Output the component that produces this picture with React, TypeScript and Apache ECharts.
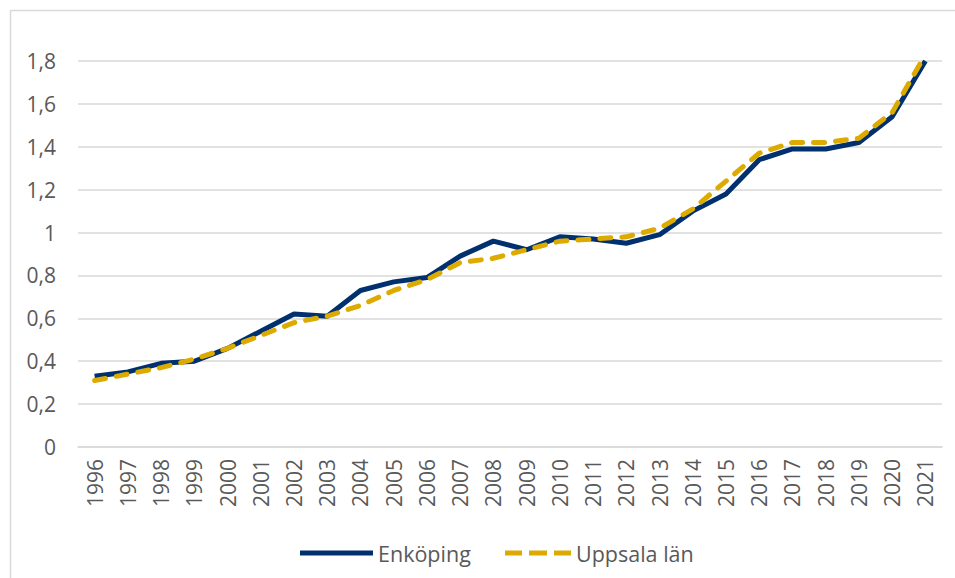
import React, { useEffect, useRef } from "react";
import * as echarts from "echarts";

const years = ["1996","1997","1998","1999","2000","2001","2002","2003","2004","2005","2006","2007","2008","2009","2010","2011","2012","2013","2014","2015","2016","2017","2018","2019","2020","2021"];
const enkoping = [0.33,0.35,0.39,0.40,0.46,0.54,0.62,0.61,0.73,0.77,0.79,0.89,0.96,0.92,0.98,0.97,0.95,0.99,1.10,1.18,1.34,1.39,1.39,1.42,1.54,1.80];
const uppsala = [0.31,0.34,0.37,0.41,0.46,0.52,0.58,0.61,0.66,0.73,0.78,0.86,0.88,0.92,0.96,0.97,0.98,1.02,1.11,1.24,1.37,1.42,1.42,1.44,1.56,1.83];
const seriesNames = ["Enköping", "Uppsala län"];

const FONT = "'Open Sans', 'Noto Sans', sans-serif";
const TEXT = "#595959";
const NAVY = "#00306E";
const GOLD = "#DDAA00";

export default function App() {
  const ref = useRef<HTMLDivElement>(null);
  useEffect(() => {
    if (!ref.current) return;
    const chart = echarts.init(ref.current, undefined, { renderer: "svg" });
    const legendText = { color: TEXT, fontSize: 21.5, fontFamily: FONT, lineHeight: 24 };
    chart.setOption({
      animation: false,
      backgroundColor: "#ffffff",
      textStyle: { fontFamily: FONT },
      graphic: [
        {
          type: "rect",
          shape: { x: 10.5, y: 10.5, width: 960, height: 600 },
          style: { fill: "none", stroke: "#d9d9d9", lineWidth: 1.5 },
          silent: true,
          z: -1,
        },
      ],
      grid: { left: 78, right: 13, top: 61, bottom: 131, containLabel: false },
      legend: [
        {
          left: 295,
          top: 536,
          itemWidth: 73,
          itemHeight: 5,
          itemGap: 0,
          textStyle: legendText,
          data: [{ name: seriesNames[0], icon: "path://M0,0H73V5H0Z" }],
        },
        {
          left: 500,
          top: 536,
          itemWidth: 66,
          itemHeight: 5,
          itemGap: 0,
          textStyle: legendText,
          data: [{ name: seriesNames[1], icon: "path://M0,0H17V5H0Z M24,0H42V5H24Z M49,0H66V5H49Z" }],
        },
      ],
      xAxis: {
        type: "category",
        data: years,
        boundaryGap: true,
        axisLine: { show: true, lineStyle: { color: "#d9d9d9", width: 1.5 } },
        axisTick: { show: false },
        axisLabel: { rotate: 90, color: TEXT, fontSize: 21, fontFamily: FONT, margin: 12, interval: 0 },
      },
      yAxis: {
        type: "value",
        min: 0,
        max: 1.8,
        interval: 0.2,
        axisLine: { show: false },
        axisTick: { show: false },
        splitLine: { lineStyle: { color: "#d9d9d9", width: 1.5 } },
        axisLabel: {
          color: TEXT,
          fontSize: 21,
          fontFamily: FONT,
          margin: 22,
          formatter: (v: number) => String(Math.round(v * 10) / 10).replace(".", ","),
        },
      },
      series: [
        {
          name: seriesNames[0],
          type: "line",
          data: enkoping,
          symbol: "none",
          lineStyle: { color: NAVY, width: 5 },
          itemStyle: { color: NAVY },
          z: 2,
        },
        {
          name: seriesNames[1],
          type: "line",
          data: uppsala,
          symbol: "none",
          lineStyle: { color: GOLD, width: 5, type: [11, 11], cap: "round" },
          itemStyle: { color: GOLD },
          z: 3,
        },
      ],
    });
    return () => chart.dispose();
  }, []);
  return (
    <div style={{ position: "fixed", left: 0, top: 0, width: 955, height: 578, background: "#fff" }}>
      <div ref={ref} style={{ width: 955, height: 578 }} />
    </div>
  );
}
